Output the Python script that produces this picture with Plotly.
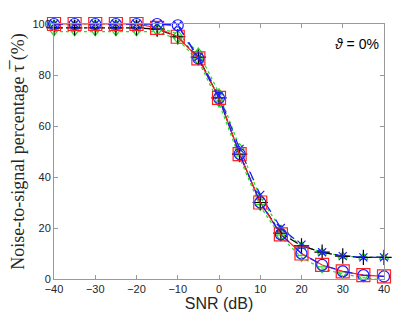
import plotly.graph_objects as go

snr = [-40, -35, -30, -25, -20, -15, -10, -5, 0, 5, 10, 15, 20, 25, 30, 35, 40]

red_sq = [100, 100, 100, 100, 100, 98.5, 95, 86.5, 71, 49, 30, 17.5, 10, 5.5, 3, 1.5, 1]
blue_circ = [100, 100, 100, 100, 100, 100, 99.5, 86.5, 71, 49, 30, 17.5, 10, 5.5, 3, 1.5, 1]
black_plus = [98.5, 98.5, 98.5, 98.5, 98.5, 98, 95, 87, 71, 49, 30, 18, 13, 10.5, 9, 8.5, 8.5]
blue_x = [100, 100, 100, 100, 100, 100, 99.5, 87, 72, 51, 33, 20, 13.5, 10.5, 9, 8.5, 8.5]
green_up = [100, 100, 100, 100, 100, 99, 96, 89, 73, 51.5, 32, 19.5, 13, 10.5, 9, 8.5, 8.5]
green_down = [97, 97, 97, 97, 97, 97, 94, 85.5, 69, 47.5, 28.5, 16.5, 8.5, 4, 2, 0.5, -0.5]

fig = go.Figure()

def add(y, color, dash, symbol, size, width=1.2):
    fig.add_trace(go.Scatter(
        x=snr, y=y, mode="lines+markers",
        line=dict(color=color, dash=dash, width=width),
        marker=dict(symbol=symbol, size=size, color=color,
                    line=dict(color=color, width=1.2)),
        showlegend=False, cliponaxis=False))

add(green_down, "#22dd22", "dot", "triangle-down-open", 8)
add(green_up, "#22dd22", "dot", "triangle-up-open", 8)
add(black_plus, "black", "dashdot", "cross-thin-open", 11)
add(blue_x, "#1a1aff", "dash", "x-thin-open", 8)
add(red_sq, "#ff2020", "solid", "square-open", 13)
add(blue_circ, "#1a1aff", "dash", "circle-open", 11)

axis_common = dict(
    showgrid=False, zeroline=False, showline=True, linecolor="#999999",
    linewidth=1, mirror="ticks", ticks="inside", ticklen=4, automargin=False,
    tickcolor="#999999", tickfont=dict(family="Liberation Sans, Arial", size=11, color="#262626"),
)

fig.update_layout(
    width=407, height=304,
    margin=dict(l=46, r=31, t=16, b=33),
    plot_bgcolor="white", paper_bgcolor="white",
    xaxis=dict(range=[-40, 40], tickmode="array", tickvals=list(range(-40, 41, 10)),
               title=dict(text="SNR (dB)", font=dict(family="Liberation Sans, Arial", size=16, color="#262626"),
                          standoff=1),
               **axis_common),
    yaxis=dict(range=[0, 100], tickmode="array", tickvals=list(range(0, 101, 20)),
               title=dict(text="Noise-to-signal percentage τ\u0305 (%)",
                          font=dict(family="Liberation Serif, DejaVu Serif", size=18, color="#262626"),
                          standoff=3),
               **axis_common),
    annotations=[dict(x=0.99, y=0.96, xref="paper", yref="paper", xanchor="right", yanchor="top",
                      text="<i>ϑ</i> = 0%", showarrow=False,
                      font=dict(family="Liberation Sans, Arial", size=14, color="black"))],
)

fig.write_html("out.html")
